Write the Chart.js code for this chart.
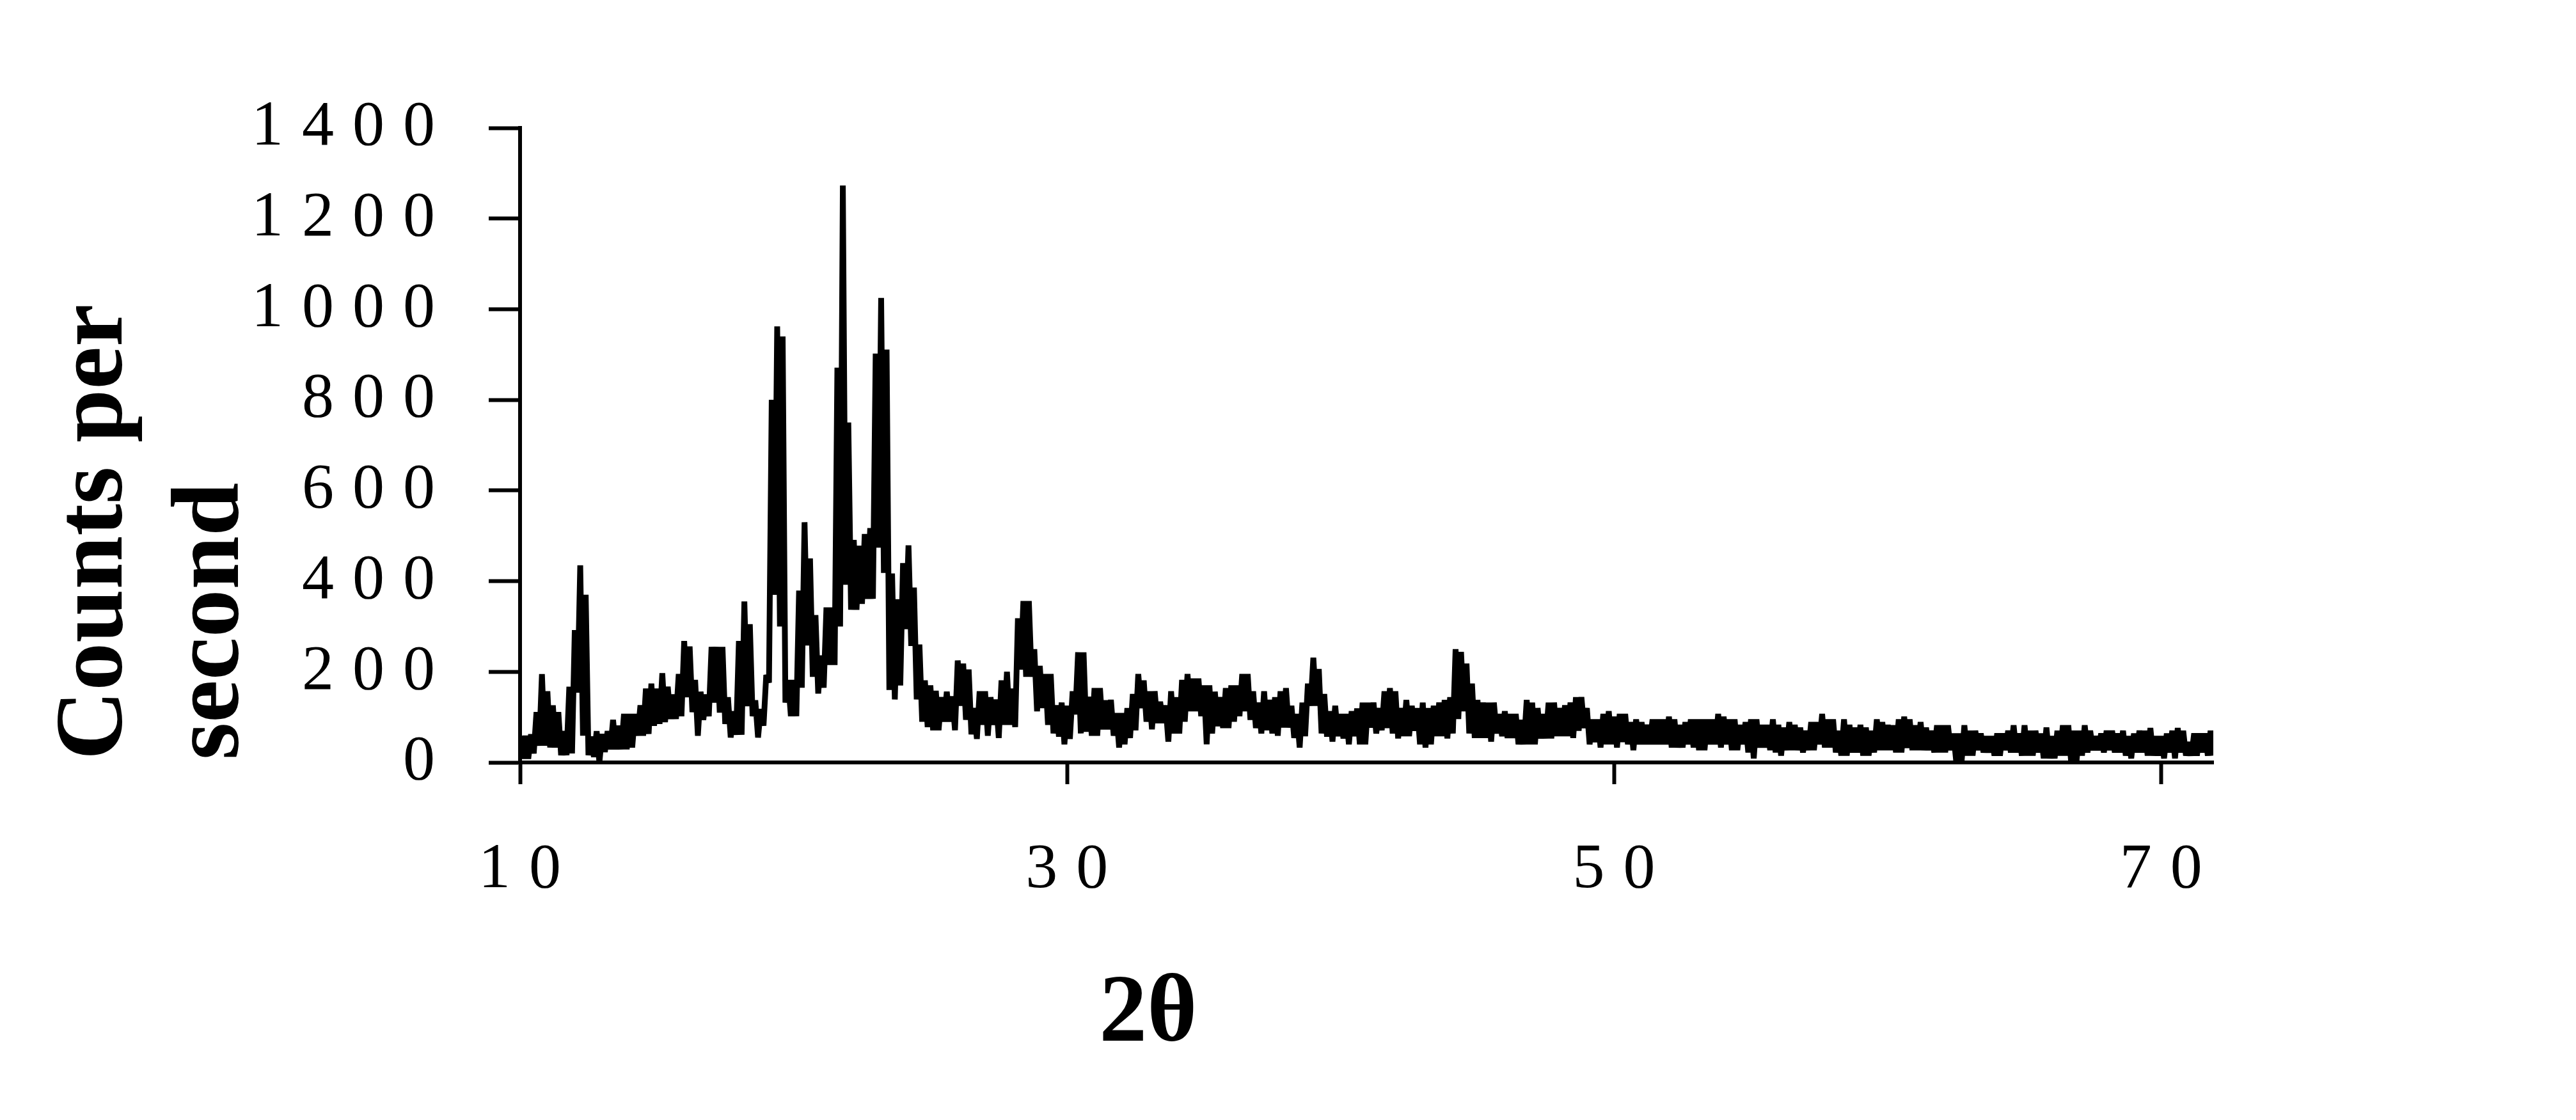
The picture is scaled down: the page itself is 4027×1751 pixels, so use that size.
<!DOCTYPE html>
<html>
<head>
<meta charset="utf-8">
<script src="https://cdn.jsdelivr.net/npm/chart.js@4.4.1/dist/chart.umd.min.js"></script>
<style>
    html, body { margin: 0; padding: 0; background: #fff; }
    #wrap { width: 4027px; height: 1751px; position: relative; }
</style>
</head>
<body>
<div id="wrap"><canvas id="xrd"></canvas></div>
<script>
// scan starts at 10.0 deg 2-theta, one reading every 0.1 deg (rows = one degree)
const scanStart = 10.0;
const scanStep = 0.1;
const counts = [
    59, 8, 59, 8, 62, 20, 111, 37, 195, 37,
    157, 33, 126, 33, 111, 16, 69, 16, 167, 20,
    292, 154, 435, 59, 370, 16, 57, 12, 69, 0,
    63, 23, 69, 29, 94, 29, 81, 29, 107, 29,
    107, 33, 107, 59, 126, 59, 163, 63, 174, 81,
    163, 85, 197, 89, 167, 96, 150, 96, 195, 102,
    268, 144, 256, 111, 182, 59, 156, 94, 150, 102,
    255, 132, 255, 110, 255, 85, 144, 55, 113, 61,
    268, 61, 355, 124, 305, 102, 137, 55, 118, 81,
    193, 176, 800, 370, 962, 300, 940, 132, 182, 102,
    182, 102, 379, 165, 530, 258, 450, 189, 325, 152,
    236, 165, 342, 215, 342, 215, 871, 300, 1273, 392,
    750, 337, 491, 337, 478, 350, 504, 361, 517, 361,
    902, 474, 1025, 418, 911, 160, 417, 139, 360, 170,
    440, 294, 479, 257, 386, 139, 260, 90, 181, 78,
    170, 71, 158, 71, 144, 90, 156, 90, 146, 71,
    225, 125, 218, 94, 205, 62, 120, 52, 157, 83,
    157, 59, 144, 83, 139, 54, 181, 83, 200, 83,
    163, 78, 318, 205, 356, 189, 356, 189, 250, 113,
    213, 120, 195, 83, 195, 64, 126, 57, 132, 40,
    125, 52, 157, 106, 243, 64, 243, 68, 145, 59,
    164, 59, 164, 73, 137, 73, 138, 59, 109, 33,
    109, 40, 120, 54, 151, 71, 195, 120, 181, 90,
    157, 73, 157, 87, 134, 87, 126, 46, 157, 64,
    144, 64, 182, 90, 195, 113, 185, 113, 185, 102,
    170, 40, 170, 64, 156, 80, 144, 76, 164, 76,
    170, 90, 170, 102, 195, 113, 195, 94, 157, 76,
    132, 64, 157, 71, 138, 64, 144, 59, 157, 77,
    164, 77, 125, 54, 107, 33, 132, 58, 174, 125,
    231, 125, 206, 64, 151, 57, 113, 46, 125, 58,
    107, 53, 107, 40, 113, 58, 119, 40, 132, 40,
    132, 77, 132, 64, 120, 71, 157, 76, 164, 64,
    157, 53, 120, 58, 138, 58, 125, 70, 120, 40,
    132, 33, 120, 40, 125, 58, 132, 58, 138, 53,
    144, 64, 250, 96, 244, 113, 218, 64, 174, 54,
    138, 54, 132, 54, 132, 46, 132, 64, 107, 58,
    113, 54, 107, 54, 107, 40, 94, 40, 138, 40,
    132, 40, 120, 53, 107, 53, 132, 53, 132, 58,
    120, 58, 126, 58, 132, 54, 144, 70, 144, 76,
    120, 40, 95, 45, 95, 33, 107, 40, 113, 40,
    101, 33, 107, 45, 107, 40, 89, 27, 95, 40,
    89, 40, 83, 40, 95, 40, 95, 40, 95, 40,
    101, 33, 95, 33, 83, 33, 89, 40, 95, 33,
    95, 27, 95, 27, 95, 40, 95, 40, 107, 33,
    101, 40, 95, 27, 95, 27, 83, 40, 89, 22,
    95, 9, 95, 33, 83, 33, 83, 27, 95, 22,
    83, 15, 77, 27, 89, 27, 83, 27, 77, 22,
    70, 27, 89, 27, 89, 40, 107, 33, 95, 33,
    95, 22, 70, 15, 95, 15, 83, 22, 77, 22,
    83, 15, 77, 15, 70, 22, 95, 27, 89, 27,
    83, 27, 82, 22, 95, 22, 101, 32, 95, 27,
    82, 27, 89, 27, 77, 27, 70, 22, 82, 22,
    82, 22, 82, 27, 64, 3, 64, 3, 82, 15,
    70, 15, 70, 27, 64, 22, 58, 22, 58, 15,
    64, 15, 64, 27, 70, 22, 82, 22, 64, 15,
    82, 15, 70, 15, 70, 22, 64, 9, 77, 9,
    58, 9, 70, 15, 82, 15, 82, 3, 70, 3,
    70, 15, 82, 22, 70, 27, 58, 27, 64, 22,
    70, 27, 70, 22, 64, 22, 70, 15, 58, 9,
    64, 22, 70, 22, 70, 15, 76, 15, 58, 15,
    58, 9, 64, 22, 70, 9, 76, 22, 70, 15,
    45, 15, 64, 15, 64, 22, 64, 15, 70, 15
];
const xTicks = [10, 30, 50, 70];
const yTicks = [0, 200, 400, 600, 800, 1000, 1200, 1400];
const yTitle = ['Counts per', 'second'];
const xTitle = '2θ';

let points = counts.map(function (c, i) {
    return { x: Math.round((scanStart + i * scanStep) * 10) / 10, y: c };
});

// the tick digits in the original are widely spaced, titles are not
let axisTitles = {
    id: 'axisTitles',
    beforeUpdate: function (chart) {
        chart.ctx.letterSpacing = '29px';
    },
    beforeDraw: function (chart) {
        chart.ctx.letterSpacing = '29px';
    },
    afterDraw: function (chart) {
        let ctx = chart.ctx;
        let area = chart.chartArea;
        ctx.save();
        ctx.letterSpacing = '0px';
        ctx.fillStyle = '#000';
        ctx.font = 'bold 150px "Liberation Serif"';
        ctx.textBaseline = 'alphabetic';
        ctx.textAlign = 'left';
        yTitle.forEach(function (line, i) {
            ctx.save();
            ctx.translate(190 + i * 182, area.bottom - 4);
            ctx.rotate(-Math.PI / 2);
            ctx.fillText(line, 0, 0);
            ctx.restore();
        });
        ctx.textAlign = 'center';
        ctx.fillText(xTitle, 1795, 1627);
        ctx.restore();
    }
};

let tickFont = { family: 'Liberation Serif', size: 100, weight: 'normal' };
let plainLabel = function (value) {
    return String(value);
};

new Chart(document.getElementById('xrd').getContext('2d'), {
    type: 'line',
    data: {
        datasets: [{
            data: points,
            borderColor: '#000',
            borderWidth: 9,
            borderJoinStyle: 'bevel',
            pointRadius: 0,
            tension: 0,
            fill: false
        }]
    },
    options: {
        responsive: true,
        maintainAspectRatio: false,
        animation: false,
        devicePixelRatio: 1,
        parsing: false,
        layout: { padding: { top: 200, right: 567, left: 0, bottom: 0 } },
        plugins: {
            legend: { display: false },
            tooltip: { enabled: false }
        },
        scales: {
            x: {
                type: 'linear',
                min: 10,
                max: 71.9,
                afterBuildTicks: function (scale) {
                    scale.ticks = xTicks.map(function (v) { return { value: v }; });
                },
                afterFit: function (scale) { scale.height = 559; },
                grid: { drawOnChartArea: false, drawTicks: true, tickLength: 34, tickWidth: 6, tickColor: '#000' },
                border: { display: true, color: '#000', width: 6 },
                ticks: { color: '#000', font: tickFont, padding: 75, maxRotation: 0, autoSkip: false, labelOffset: 14, callback: plainLabel }
            },
            y: {
                type: 'linear',
                min: 0,
                max: 1400,
                afterBuildTicks: function (scale) {
                    scale.ticks = yTicks.map(function (v) { return { value: v }; });
                },
                afterFit: function (scale) { scale.width = 813; },
                grid: { drawOnChartArea: false, drawTicks: true, tickLength: 49, tickWidth: 6, tickColor: '#000' },
                border: { display: true, color: '#000', width: 6 },
                ticks: { color: '#000', font: tickFont, padding: 55, autoSkip: false, callback: plainLabel }
            }
        }
    },
    plugins: [axisTitles]
});
</script>
</body>
</html>
